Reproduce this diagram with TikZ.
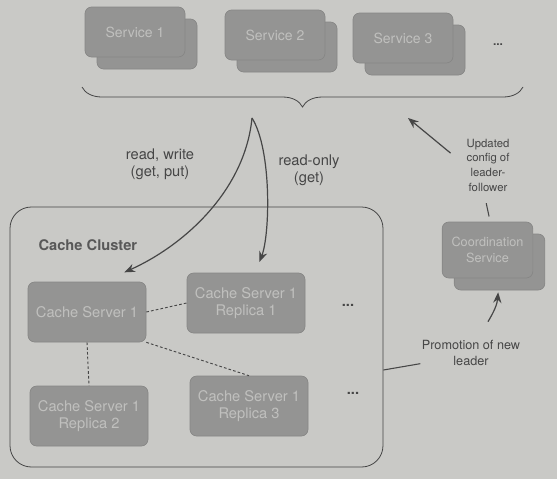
\documentclass[tikz,border=0pt]{standalone}
\usepackage{fontspec}
\setmainfont{TeX Gyre Heros}
\usetikzlibrary{
    calc,
    positioning,
    arrows.meta,
    shadows,
    decorations.pathreplacing
}
\definecolor{paper}{RGB}{201,201,198}
\definecolor{box}{RGB}{148,148,147}
\definecolor{boxline}{RGB}{134,134,133}
\definecolor{boxtext}{RGB}{192,192,190}
\definecolor{ink}{RGB}{70,70,70}
\tikzset{
    line/.style = {
        draw = ink,
        line width = 0.9pt,
        -{Stealth[length=2.8mm, width=2.2mm]}
    },
    arrow/.style = {
        line
    },
    % Line without tip:
    plain line/.style = {
        draw = ink,
        line width = 0.8pt
    },
    % Replication link:
    dashed link/.style = {
        draw = ink,
        line width = 0.7pt,
        dash pattern = on 2pt off 1.6pt
    },
    % Grey box:
    box node/.style = {
        rectangle,
        rounded corners = 5pt,
        fill = box,
        draw = boxline,
        line width = 0.5pt,
        text = boxtext,
        align = center
    },
    % Box with a copy behind it:
    service node/.style = {
        box node,
        minimum width = 75pt,
        minimum height = 37.5pt,
        font = \fontsize{10.5}{12.5}\selectfont,
        copy shadow = {fill=box, draw=boxline, shadow xshift=9pt, shadow yshift=-9pt}
    },
    cache node/.style = {
        box node,
        minimum width = 88.5pt,
        minimum height = 45pt,
        font = \fontsize{11}{12.5}\selectfont
    },
    % Frame of the cluster:
    cluster box/.style = {
        draw = ink,
        line width = 0.6pt,
        rounded corners = 16pt,
        minimum width = 279.75pt,
        minimum height = 195pt
    },
    note/.style = {
        text = ink,
        align = center,
        inner sep = 1pt,
        font = \fontsize{11}{13}\selectfont
    },
    % Bold ellipsis:
    dots/.style = {
        note,
        font = \fontsize{11}{13}\selectfont\bfseries
    }
}

\begin{document}
\begin{tikzpicture}[x=0.75pt, y=-0.75pt]
    % Page background.
    \fill [paper] (0, 0) rectangle (557, 479);
    \useasboundingbox (0, 0) rectangle (557, 479);
    \node (service 1) [service node] at (135, 32) {Service 1};
    \node (service 2) [service node] at (275, 35) {Service 2};
    \node (service 3) [service node] at (403, 38) {Service 3};
    \node (more services) [dots, font=\fontsize{9}{11}\selectfont\bfseries] at (498, 45) {...};
    \draw [plain line, line width=0.6pt, decorate,
        decoration={brace, mirror, amplitude=15pt}]
        (82, 87) -- (523, 87);
    \coordinate (fanout) at (252, 118);
    \coordinate (config head) at (408, 118);
    \node (cluster) [cluster box] at (196.5, 337) {};
    \node (cluster title) [note, anchor=west, text=ink!90,
        font=\fontsize{11}{13}\selectfont\bfseries] at (37, 245) {Cache Cluster};
    \node (cs1) [cache node] at (87, 312) {Cache Server 1};
    \node (r1) [cache node] at (246, 303) {Cache Server 1\\Replica 1};
    \node (r2) [cache node] at (89, 416) {Cache Server 1\\Replica 2};
    \node (r3) [cache node] at (249, 406) {Cache Server 1\\Replica 3};
    \node (more r1) [dots] at (348, 305) {...};
    \node (more r3) [dots] at (353, 393) {...};
    \draw [dashed link] (cs1.east) -- (r1.west);
    \draw [dashed link] (cs1.south) -- (r2.north);
    \draw [dashed link] (cs1.south east) -- (r3.north);
    \node (coordination) [service node, minimum width=68pt, minimum height=42pt,
        font=\fontsize{9.5}{11.5}\selectfont] at (487.5, 250) {Coordination\\Service};
    % Labels.
    \node (rw label) [note] at (160, 164) {read, write\\(get, put)};
    \node (ro label) [note] at (309, 170) {read-only\\(get)};
    \node (config label) [note, font=\fontsize{8.5}{11}\selectfont] at (488, 165)
        {Updated\\config of\\leader-\\follower};
    \node (promo label) [note, font=\fontsize{9.5}{12}\selectfont] at (471, 353)
        {Promotion of new\\leader};
    % Requests from the services.
    \draw [arrow] (fanout)
        .. controls (245, 190) and (185, 245) .. ([xshift=28pt, yshift=7pt]cs1.north);
    \draw [arrow] (fanout)
        .. controls (272, 150) and (270, 235) .. ([xshift=10pt, yshift=8pt]r1.north);
    % Leader changes.
    \draw [arrow, shorten <=14pt] (config label.west) -- (config head);
    \draw [plain line, shorten <=4pt, shorten >=8pt]
        ([xshift=2pt]coordination.north) -- ([xshift=-3pt]config label.south);
    \draw [plain line] ([yshift=-8pt]promo label.west)
        -- ($(promo label.west -| cluster.east) + (0, 17)$);
    \draw [arrow] ([xshift=12.75pt, yshift=12.75pt]promo label.north)
        .. controls +(6, -10) and +(-1, 12) .. ([xshift=8pt, yshift=-10.5pt]coordination.south);
\end{tikzpicture}
\end{document}
